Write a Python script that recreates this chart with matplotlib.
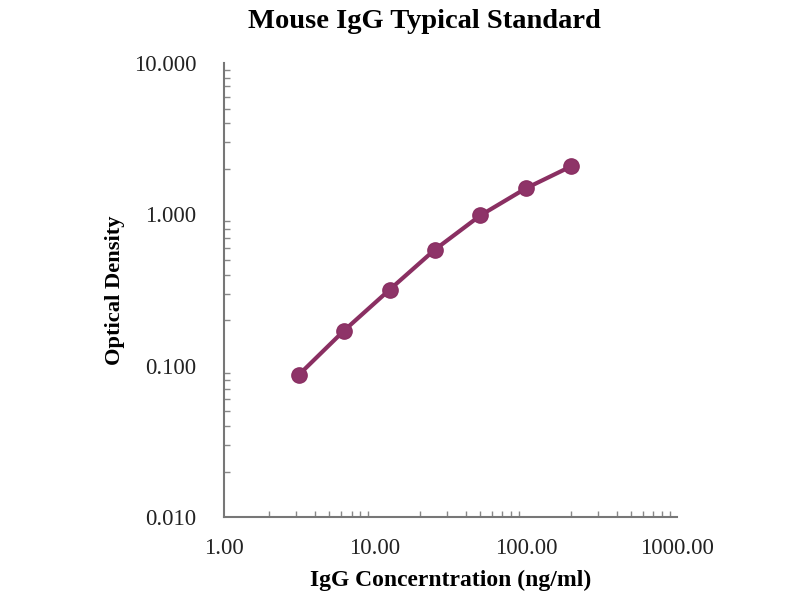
import matplotlib
matplotlib.use("Agg")
import matplotlib.pyplot as plt
from matplotlib.ticker import FormatStrFormatter, LogLocator

# standard curve
conc = [3.125, 6.25, 12.5, 25, 50, 100, 200]
od = [0.087, 0.171, 0.318, 0.586, 0.985, 1.486, 2.08]

x_ticks = [1, 10, 100, 1000]
y_ticks = [0.01, 0.1, 1, 10]

plt.rcParams['font.family'] = ['Liberation Serif', 'DejaVu Serif']

fig = plt.figure(figsize=(8, 6), dpi=100)
ax = fig.add_axes([0.28, 0.138, 0.566, 0.757])

col = '#8a2f62'
ax.plot(conc, od, color=col, lw=3, marker='o', ms=11,
        markerfacecolor='#8e3468', markeredgecolor=col, solid_capstyle='round')

ax.set_xscale('log')
ax.set_yscale('log')
ax.set_xlim(1, 1000)
ax.set_ylim(0.01, 10)
ax.set_xticks(x_ticks)
ax.set_yticks(y_ticks)
ax.xaxis.set_major_formatter(FormatStrFormatter('%.2f'))
ax.yaxis.set_major_formatter(FormatStrFormatter('%.3f'))
ax.xaxis.set_minor_locator(LogLocator(base=10, subs=range(2, 10)))
ax.yaxis.set_minor_locator(LogLocator(base=10, subs=range(2, 10)))
ax.xaxis.set_minor_formatter(plt.NullFormatter())
ax.yaxis.set_minor_formatter(plt.NullFormatter())

for s in ['top', 'right']:
    ax.spines[s].set_visible(False)
for s in ['left', 'bottom']:
    ax.spines[s].set_color('#777777')
    ax.spines[s].set_linewidth(1.5)

ax.tick_params(which='major', length=0, labelsize=16.5, colors='#222222')
ax.tick_params(which='minor', direction='in', length=4, width=1, color='#888888')
ax.tick_params(axis='x', which='major', pad=15)
ax.tick_params(axis='y', which='major', pad=20)

fig.text(0.531, 0.964, 'Mouse IgG Typical Standard', fontsize=20.5,
         fontweight='bold', ha='center', va='center')
ax.set_xlabel('IgG Concerntration (ng/ml)', fontsize=17, fontweight='bold', labelpad=8)
ax.set_ylabel('Optical Density', fontsize=16.2, fontweight='bold', labelpad=6)

fig.savefig('out.png', dpi=100)
